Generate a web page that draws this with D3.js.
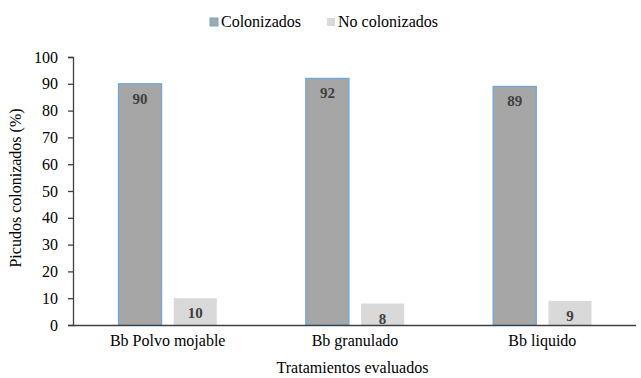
<!DOCTYPE html>
<html>
<head>
<meta charset="utf-8">
<script src="https://cdn.jsdelivr.net/npm/d3@7"></script>
<style>
  html, body { margin: 0; padding: 0; background: #fff; }
  svg { display: block; }
  svg text { font-family: "Liberation Serif", "Times New Roman", serif; }
</style>
</head>
<body>
<svg id="chart" width="641" height="378"></svg>
<script>
// Treatments and percentages of weevils
const categories = ["Bb Polvo mojable", "Bb granulado", "Bb liquido"];
const seriesNames = ["Colonizados", "No colonizados"];
const colonizados = [90, 92, 89];
const noColonizados = [10, 8, 9];
const yTicks = [0, 10, 20, 30, 40, 50, 60, 70, 80, 90, 100];

const svg = d3.select("#chart");
const margin = { left: 73, right: 5, top: 57, bottom: 53 };
const W = 641, H = 378;

const x = d3.scaleBand().domain(categories).range([margin.left + 1, W - margin.right]).paddingInner(0).paddingOuter(0);
const y = d3.scaleLinear().domain([0, 100]).range([H - margin.bottom, margin.top]);
const inner = d3.scaleBand().domain(seriesNames).range([44.5, x.bandwidth() - 44.5]).paddingInner(0.22);

const fills = { "Colonizados": "#A6A6A6", "No colonizados": "#D9D9D9" };
const strokes = { "Colonizados": "#6FA8DC", "No colonizados": "none" };
const rows = categories.map((c, i) => ({ c, vals: [colonizados[i], noColonizados[i]] }));

// bars with value labels inside the top
const g = svg.append("g");
rows.forEach(r => {
  r.vals.forEach((v, j) => {
    const s = seriesNames[j];
    const bx = x(r.c) + inner(s);
    g.append("rect")
      .attr("x", bx)
      .attr("y", y(v))
      .attr("width", inner.bandwidth())
      .attr("height", y(0) - y(v))
      .attr("fill", fills[s])
      .attr("stroke", strokes[s])
      .attr("stroke-width", 1.3);
    g.append("text")
      .attr("x", bx + inner.bandwidth() / 2)
      .attr("y", y(v) + 20)
      .attr("text-anchor", "middle")
      .attr("font-size", 15)
      .attr("font-weight", "bold")
      .attr("fill", "#404040")
      .text(v);
  });
});

// y axis
const yAxis = d3.axisLeft(y).tickValues(yTicks).tickSize(5).tickPadding(10);
const ya = svg.append("g").attr("transform", `translate(${margin.left},0)`).call(yAxis);
ya.select(".domain").attr("stroke", "#404040").attr("stroke-width", 1.3);
ya.selectAll(".tick line").attr("stroke", "#404040").attr("stroke-width", 1.3);
ya.selectAll(".tick text").attr("font-size", 16).attr("fill", "#000");

// x axis
const xAxis = d3.axisBottom(x).tickSize(0).tickPadding(10);
const xa = svg.append("g").attr("transform", `translate(0,${y(0)})`).call(xAxis);
xa.select(".domain").attr("stroke", "#404040").attr("stroke-width", 1.6).attr("d", `M${margin.left},0.5H${W - margin.right}`);
xa.selectAll(".tick text").attr("font-size", 16).attr("fill", "#000");

// axis titles
svg.append("text")
  .attr("x", (margin.left + W - margin.right) / 2 - 2)
  .attr("y", 373)
  .attr("text-anchor", "middle")
  .attr("font-size", 16)
  .text("Tratamientos evaluados");

svg.append("text")
  .attr("transform", `translate(21,188) rotate(-90)`)
  .attr("text-anchor", "middle")
  .attr("font-size", 16)
  .text("Picudos colonizados (%)");

// legend
const legendItems = [
  { name: seriesNames[0], x: 210 },
  { name: seriesNames[1], x: 327 }
];
legendItems.forEach(it => {
  svg.append("rect")
    .attr("x", it.x).attr("y", 18).attr("width", 8).attr("height", 8)
    .attr("fill", fills[it.name])
    .attr("stroke", strokes[it.name])
    .attr("stroke-width", 1);
  svg.append("text")
    .attr("x", it.x + 11).attr("y", 27)
    .attr("font-size", 16)
    .text(it.name);
});
</script>
</body>
</html>
